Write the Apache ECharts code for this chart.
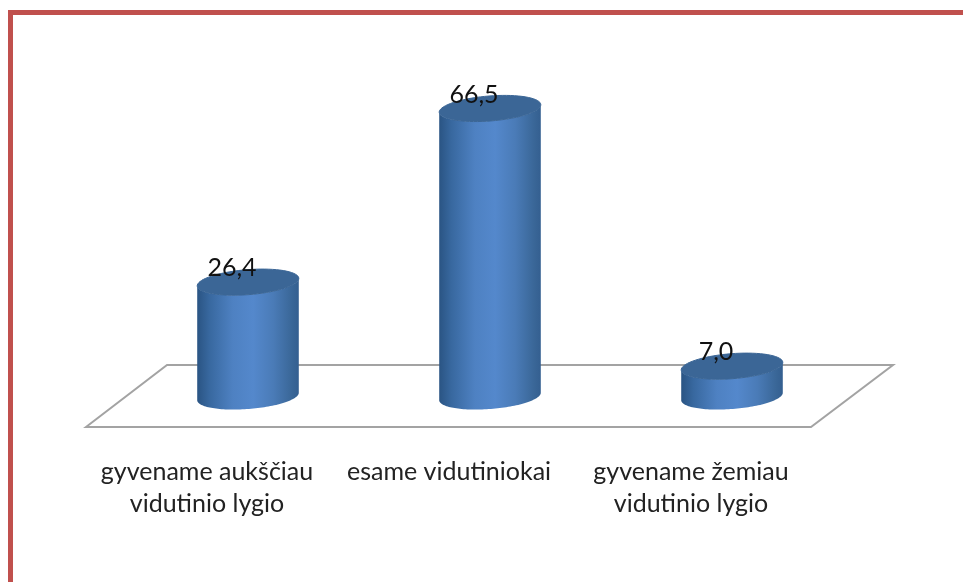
<!DOCTYPE html>
<html>
<head>
<meta charset="utf-8">
<style>html,body{margin:0;padding:0;background:#fff}#c{width:963px;height:582px}</style>
<script src="https://cdn.jsdelivr.net/npm/echarts@6/dist/echarts.min.js"></script>
</head>
<body>
<div id="c"></div>
<script>
const categories = ['gyvename aukščiau\nvidutinio lygio', 'esame vidutiniokai', 'gyvename žemiau\nvidutinio lygio'];
const values = [26.4, 66.5, 7.0];

const FONT = 'Lato, "Open Sans", sans-serif';
const chart = echarts.init(document.getElementById('c'), null, {renderer: 'canvas'});

function ellipsePoint(cx, cy, a, b, theta, t) {
  const px = a * Math.cos(t), py = b * Math.sin(t);
  return [cx + px * Math.cos(theta) - py * Math.sin(theta),
          cy + px * Math.sin(theta) + py * Math.cos(theta)];
}
function arc(cx, cy, a, b, theta, from, to) {
  const pts = [];
  for (let i = 0; i <= 72; i++) pts.push(ellipsePoint(cx, cy, a, b, theta, from + (to - from) * i / 72));
  return pts;
}

function renderCylinder(params, api) {
  const idx = api.value(0), val = api.value(1);
  const top = api.coord([idx, val]), base = api.coord([idx, 0]);
  const a = api.size([1, 0])[0] * 0.2105, b = 12.5, theta = -0.078;
  const lower = arc(base[0], base[1], a, b, theta, 0, Math.PI);
  const upper = arc(top[0], top[1], a, b, theta, Math.PI, 0);
  const bodyGrad = new echarts.graphic.LinearGradient(0, 0, 1, 0, [
    {offset: 0, color: '#2A5483'}, {offset: 0.12, color: '#38689F'},
    {offset: 0.35, color: '#4E81C2'}, {offset: 0.55, color: '#5488CC'},
    {offset: 0.75, color: '#4A7BB7'}, {offset: 0.93, color: '#3A6798'}, {offset: 1, color: '#345F90'}
  ]);
  const topColor = '#3B6696';
  return {
    type: 'group',
    children: [
      {type: 'polygon', shape: {points: lower.concat(upper)}, style: {fill: bodyGrad}},
      {type: 'polygon', shape: {points: arc(top[0], top[1], a, b, theta, 0, Math.PI * 2)}, style: {fill: topColor, stroke: topColor, lineWidth: 1}},
      {type: 'text', style: {
        x: top[0] - 16, y: top[1] - 14,
        text: val.toFixed(1).replace('.', ','),
        fill: '#111', font: '25px ' + FONT, align: 'center', verticalAlign: 'middle'
      }}
    ]
  };
}

chart.setOption({
  animation: false,
  backgroundColor: '#fff',
  grid: {left: 127, width: 726, top: 50, height: 346.5},
  xAxis: {
    type: 'category', data: categories,
    axisLine: {show: false}, axisTick: {show: false}, splitLine: {show: false},
    axisLabel: {margin: 59, color: '#222', fontFamily: FONT, fontSize: 25, lineHeight: 32, interval: 0, padding: [0, 82, 0, 0]}
  },
  yAxis: {type: 'value', min: 0, max: 80, interval: 20, show: false},
  graphic: [
    {type: 'polyline', z: 0, shape: {points: [[10.5, 582], [10.5, 12.5], [963, 12.5]]}, style: {fill: null, stroke: '#C0504D', lineWidth: 5}},
    {type: 'polygon', z: 0, shape: {points: [[86, 427], [167, 365], [893, 365], [811, 427]]}, style: {fill: '#fff', stroke: '#A3A3A3', lineWidth: 2}}
  ],
  series: [{
    type: 'custom', z: 5, silent: true,
    renderItem: renderCylinder,
    encode: {x: 0, y: 1},
    data: values.map((v, i) => [i, v])
  }]
});
</script>
</body>
</html>
